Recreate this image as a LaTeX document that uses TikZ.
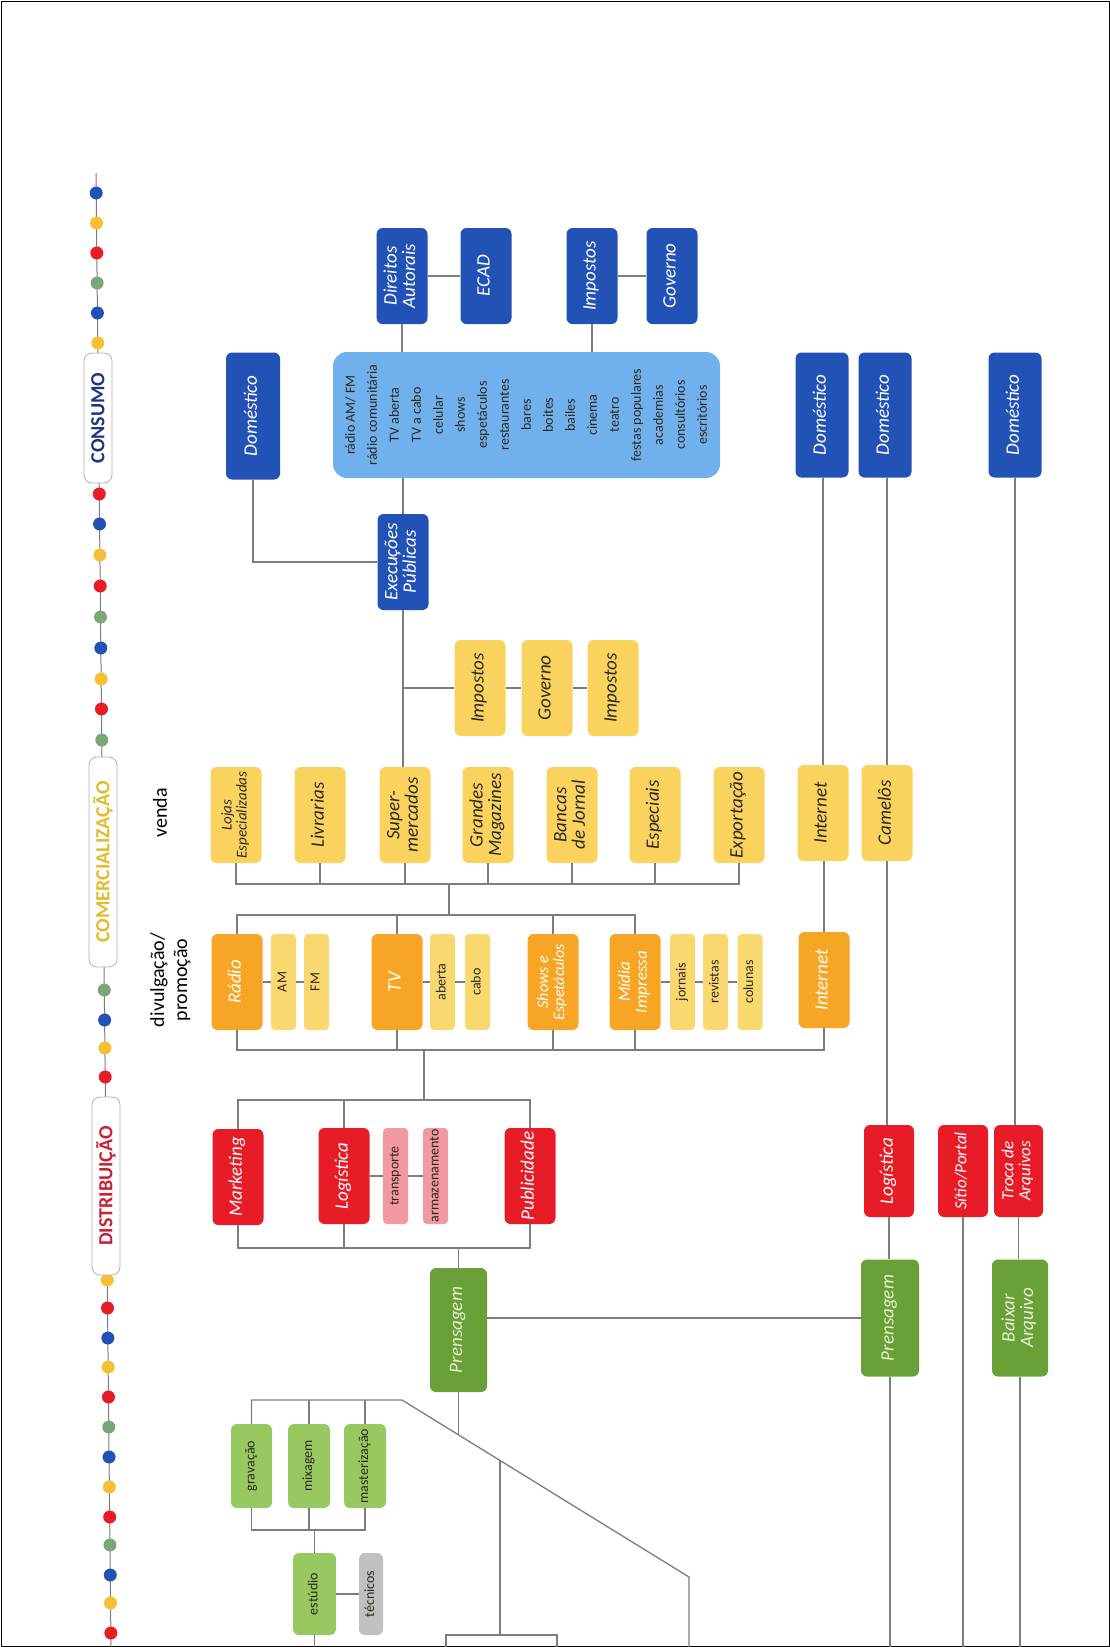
\documentclass[tikz,border=0pt]{standalone}
\usepackage{fontspec}
\setmainfont{Carlito}
\usepackage{graphicx}

\definecolor{azul}{RGB}{35,82,182}
\definecolor{celeste}{RGB}{112,176,236}
\definecolor{amarelo}{RGB}{250,211,95}
\definecolor{palido}{RGB}{250,216,112}
\definecolor{laranja}{RGB}{246,166,36}
\definecolor{vermelho}{RGB}{232,28,38}
\definecolor{rosa}{RGB}{241,152,162}
\definecolor{verde}{RGB}{106,160,56}
\definecolor{verdeclaro}{RGB}{152,200,96}
\definecolor{verdetexto}{RGB}{228,242,205}
\definecolor{cinza}{RGB}{192,192,192}
\definecolor{escuro}{RGB}{45,40,32}
\definecolor{linha}{RGB}{125,125,125}
\definecolor{pamarelo}{RGB}{246,192,52}
\definecolor{pverde}{RGB}{122,166,122}
\definecolor{tconsumo}{RGB}{30,52,132}
\definecolor{tcomercio}{RGB}{226,186,42}
\definecolor{tdistrib}{RGB}{202,32,52}

\newcommand\rotlabel[1]{\rotatebox{90}{\begin{tabular}{@{}c@{}}#1\end{tabular}}}

\tikzset{
  box/.style={rounded corners=6pt, inner sep=0pt, font=\fontsize{19}{18}\selectfont\itshape},
  grande/.style={minimum width=51, minimum height=96},
  fino/.style={minimum width=25, minimum height=96, rounded corners=4pt, font=\fontsize{14}{16}\selectfont},
  azulbox/.style={box, fill=azul, text=white},
  celestebox/.style={box, fill=celeste, text=escuro, rounded corners=14pt, font=\fontsize{14}{22}\selectfont},
  amarelobox/.style={box, fill=amarelo, text=escuro},
  laranjabox/.style={box, fill=laranja, text=white},
  vermelhobox/.style={box, fill=vermelho, text=white},
  verdebox/.style={box, fill=verde, text=verdetexto},
  palidobox/.style={box, fino, fill=palido, text=escuro},
  rosabox/.style={box, fino, fill=rosa, text=escuro},
  clarobox/.style={box, fill=verdeclaro, text=escuro, font=\fontsize{14}{16}\selectfont, minimum width=42, minimum height=84},
  cinzabox/.style={box, fill=cinza, text=escuro, font=\fontsize{14}{16}\selectfont, minimum width=24, minimum height=82},
  etapa/.style={draw=linha!60, fill=white, rounded corners=8pt, line width=0.8pt, inner sep=0pt, minimum width=28, font=\fontsize{20}{22}\selectfont\bfseries},
  rotulo/.style={inner sep=0pt, font=\fontsize{20}{23}\selectfont, text=black},
  liga/.style={draw=linha, line width=1.3pt},
}

\begin{document}
\begin{tikzpicture}[x=1pt,y=-1pt]
\useasboundingbox (0,0) rectangle (1110,1647);
\draw[line width=1pt] (1,1) rectangle (1109,1646);

% linha do tempo
\draw[linha, line width=1pt] (96,173) -- (111,1647);
\foreach \y/\c in {193/azul,223/pamarelo,253/vermelho,283/pverde,313/azul,343/pamarelo,
    494/vermelho,524/azul,555/pamarelo,586/vermelho,617/pverde,648/azul,679/pamarelo,709/vermelho,740/pverde,
    990/pverde,1020/azul,1048/pamarelo,1077/vermelho,
    1280/pamarelo,1308/vermelho,1338/azul,1367/pamarelo,1397/vermelho,1427/pverde,1457/azul,
    1487/pamarelo,1517/vermelho,1545/pverde,1575/azul,1603/pamarelo,1633/vermelho}
  \fill[\c] ({96+(\y-173)*0.0102},\y) circle[radius=6.5pt];
\node[etapa, minimum height=130, text=tconsumo] (cons) at (98,418) {\rotatebox{90}{CONSUMO}};
\node[etapa, minimum height=210, text=tcomercio] (come) at (103,862) {\rotatebox{90}{COMERCIALIZAÇÃO}};
\node[etapa, minimum height=178, text=tdistrib] (dist) at (106,1186) {\rotatebox{90}{DISTRIBUIÇÃO}};

\node[rotulo] (venda) at (160,813) {\rotatebox{90}{venda}};
\node[rotulo] (divul) at (171,980) {\rotlabel{divulgação/\\promoção}};

% consumo
\node[azulbox, minimum width=54, minimum height=127] (dom0) at (253,416) {\rotlabel{Doméstico}};
\node[azulbox, grande] (dir) at (402,276) {\rotlabel{Direitos\\Autorais}};
\node[azulbox, grande] (ecad) at (486,276) {\rotlabel{ECAD}};
\node[azulbox, grande] (impA) at (592,276) {\rotlabel{Impostos}};
\node[azulbox, grande] (govA) at (672,276) {\rotlabel{Governo}};
\node[celestebox, minimum width=387, minimum height=126] (locais) at (526.5,415) {\rotlabel{rádio AM/ FM\\rádio comunitária\\TV aberta\\TV a cabo\\celular\\shows\\espetáculos\\restaurantes\\bares\\boites\\bailes\\cinema\\teatro\\festas populares\\academias\\consultórios\\escritórios}};
\node[azulbox, grande] (exec) at (403,562) {\rotlabel{Execuções\\Públicas}};
\node[azulbox, minimum width=53, minimum height=125] (dom1) at (822,415) {\rotlabel{Doméstico}};
\node[azulbox, minimum width=53, minimum height=125] (dom2) at (885,415) {\rotlabel{Doméstico}};
\node[azulbox, minimum width=53, minimum height=125] (dom3) at (1015,415) {\rotlabel{Doméstico}};

% comercializacao
\node[amarelobox, grande] (impB) at (480,688) {\rotlabel{Impostos}};
\node[amarelobox, grande] (govB) at (547,688) {\rotlabel{Governo}};
\node[amarelobox, grande] (impC) at (613,688) {\rotlabel{Impostos}};

\node[amarelobox, grande, font=\fontsize{15}{15}\selectfont\itshape] (loj) at (236,815) {\rotlabel{Lojas\\Especializadas}};
\node[amarelobox, grande] (liv) at (320,815) {\rotlabel{Livrarias}};
\node[amarelobox, grande] (sup) at (405,815) {\rotlabel{Super-\\mercados}};
\node[amarelobox, grande] (gra) at (488,815) {\rotlabel{Grandes\\Magazines}};
\node[amarelobox, grande] (ban) at (572,815) {\rotlabel{Bancas\\de Jornal}};
\node[amarelobox, grande] (esp) at (655,815) {\rotlabel{Especiais}};
\node[amarelobox, grande] (exp) at (739,815) {\rotlabel{Exportação}};
\node[amarelobox, grande] (intA) at (823,813) {\rotlabel{Internet}};
\node[amarelobox, grande] (cam) at (887,813) {\rotlabel{Camelôs}};

\node[laranjabox, grande] (rad) at (237,982) {\rotlabel{Rádio}};
\node[palidobox] (am) at (283.5,982) {\rotlabel{AM}};
\node[palidobox] (fm) at (316.5,982) {\rotlabel{FM}};
\node[laranjabox, grande] (tv) at (397,982) {\rotlabel{TV}};
\node[palidobox] (abe) at (442.5,982) {\rotlabel{aberta}};
\node[palidobox] (cab) at (477.5,982) {\rotlabel{cabo}};
\node[laranjabox, grande, font=\fontsize{16}{16}\selectfont\itshape] (sho) at (553,982) {\rotlabel{Shows e\\Espetáculos}};
\node[laranjabox, grande, font=\fontsize{17}{17}\selectfont\itshape] (mid) at (635,982) {\rotlabel{Mídia\\Impressa}};
\node[palidobox] (jor) at (682.5,982) {\rotlabel{jornais}};
\node[palidobox] (rev) at (715.5,982) {\rotlabel{revistas}};
\node[palidobox] (col) at (750,982) {\rotlabel{colunas}};
\node[laranjabox, grande] (intB) at (824,980) {\rotlabel{Internet}};

% distribuicao
\node[vermelhobox, grande] (mkt) at (238,1177) {\rotlabel{Marketing}};
\node[vermelhobox, grande] (log) at (344,1176) {\rotlabel{Logística}};
\node[rosabox] (tra) at (395.5,1176) {\rotlabel{transporte}};
\node[rosabox] (arm) at (435.5,1176) {\rotlabel{armazenamento}};
\node[vermelhobox, grande] (pub) at (530,1176) {\rotlabel{Publicidade}};
\node[vermelhobox, minimum width=50, minimum height=92] (logB) at (889,1171) {\rotlabel{Logística}};
\node[vermelhobox, minimum width=50, minimum height=92, font=\fontsize{17}{17}\selectfont\itshape] (sit) at (963,1171) {\rotlabel{Sítio/Portal}};
\node[vermelhobox, minimum width=49, minimum height=92, font=\fontsize{17}{17}\selectfont\itshape] (tro) at (1018.5,1171) {\rotlabel{Troca de\\Arquivos}};

% producao
\node[verdebox, minimum width=57, minimum height=124] (prA) at (458.5,1330) {\rotlabel{Prensagem}};
\node[verdebox, minimum width=58, minimum height=117] (prB) at (890,1318) {\rotlabel{Prensagem}};
\node[verdebox, minimum width=56, minimum height=117] (bai) at (1020,1318) {\rotlabel{Baixar\\Arquivo}};
\node[clarobox, minimum width=41] (grv) at (251.5,1466) {\rotlabel{gravação}};
\node[clarobox] (mix) at (309,1466) {\rotlabel{mixagem}};
\node[clarobox] (mas) at (365,1466) {\rotlabel{masterização}};
\node[clarobox, minimum width=43, minimum height=82] (est) at (314.5,1594) {\rotlabel{estúdio}};
\node[cinzabox] (tec) at (371,1594) {\rotlabel{técnicos}};

\coordinate (vb) at (449,884);
\coordinate (db) at (449,915);
\coordinate (dbb) at (424,1050);
\coordinate (rb) at (424,1100);
\coordinate (rbb) at (458,1248);
\coordinate (gtop) at (402,1400);
\coordinate (gdiag) at (689,1577);
\coordinate (gbot) at (313,1530);
\coordinate (pdiag) at (458.5,1434.8);
\coordinate (cx) at (500,1460.5);
\coordinate (cbusL) at (446,1635);
\coordinate (cbusR) at (557,1635);
\coordinate (base) at (0,1647);

% ligacoes consumo
\draw[liga] (dom0.south) |- (exec.west);
\draw[liga] (dir.south) -- (dir.south |- locais.north);
\draw[liga] (impA.south) -- (impA.south |- locais.north);
\draw[liga] (dir.east) -- (ecad.west);
\draw[liga] (impA.east) -- (govA.west);
\draw[liga] (exec.north |- locais.south) -- (exec.north);
\draw[liga] (exec.south) -- (exec.south |- sup.north);
\draw[liga] (exec.south |- impB.west) -- (impB.west);
\draw[liga] (impB.east) -- (govB.west) (govB.east) -- (impC.west);

% venda e divulgacao
\draw[liga] (loj.south) -- (loj.south |- vb) -| (exp.south);
\foreach \n in {liv,sup,gra,ban,esp}
  \draw[liga] (\n.south) -- (\n.south |- vb);
\draw[liga] (vb) -- (db);
\draw[liga] (rad.north) -- (rad.north |- db) -| (mid.north);
\foreach \n in {tv,sho}
  \draw[liga] (\n.north) -- (\n.north |- db);
\draw[liga] (rad.east) -- (am.west) (am.east) -- (fm.west);
\draw[liga] (tv.east) -- (abe.west) (abe.east) -- (cab.west);
\draw[liga] (mid.east) -- (jor.west) (jor.east) -- (rev.west) (rev.east) -- (col.west);
\draw[liga] (rad.south) -- (rad.south |- dbb) -| (intB.south);
\foreach \n in {tv,sho,mid}
  \draw[liga] (\n.south) -- (\n.south |- dbb);
\draw[liga] (dbb) -- (rb);

% distribuicao
\draw[liga] (mkt.north) -- (mkt.north |- rb) -| (pub.north);
\draw[liga] (log.north) -- (log.north |- rb);
\draw[liga] (log.east) -- (tra.west) (tra.east) -- (arm.west);
\draw[liga] (mkt.south) -- (mkt.south |- rbb) -| (pub.south);
\draw[liga] (log.south) -- (log.south |- rbb);
\draw[liga] (prA.north |- rbb) -- (prA.north);
\draw[liga] (prB.west) -- (prB.west -| prA.east);

% coluna da direita
\draw[liga] (intB.north) -- (intB.north |- intA.south);
\draw[liga] (intA.north) -- (intA.north |- dom1.south);
\draw[liga] (cam.north) -- (cam.north |- dom2.south);
\draw[liga] (cam.south) -- (cam.south |- logB.north);
\draw[liga] (logB.south) -- (logB.south |- prB.north);
\draw[liga] (prB.south) -- (prB.south |- base);
\draw[liga] (sit.south) -- (sit.south |- base);
\draw[liga] (dom3.south) -- (dom3.south |- tro.north);
\draw[liga] (tro.south) -- (tro.south |- bai.north);
\draw[liga] (bai.south) -- (bai.south |- base);

% estudio
\draw[liga] (grv.north) -- (grv.north |- gtop) -- (gtop) -- (gdiag) -- (gdiag |- base);
\foreach \n in {mix,mas}
  \draw[liga] (\n.north) -- (\n.north |- gtop);
\draw[liga] (grv.south) -- (grv.south |- gbot) -| (mas.south);
\draw[liga] (mix.south) -- (mix.south |- gbot);
\draw[liga] (est.north |- gbot) -- (est.north);
\draw[liga] (est.east) -- (tec.west);
\draw[liga] (est.south) -- (est.south |- base);
\draw[liga] (prA.south) -- (pdiag);
\draw[liga] (cx) -- (cx |- cbusL);
\draw[liga] (cbusL |- base) -- (cbusL) -- (cbusR) -- (cbusR |- base);
\end{tikzpicture}
\end{document}
